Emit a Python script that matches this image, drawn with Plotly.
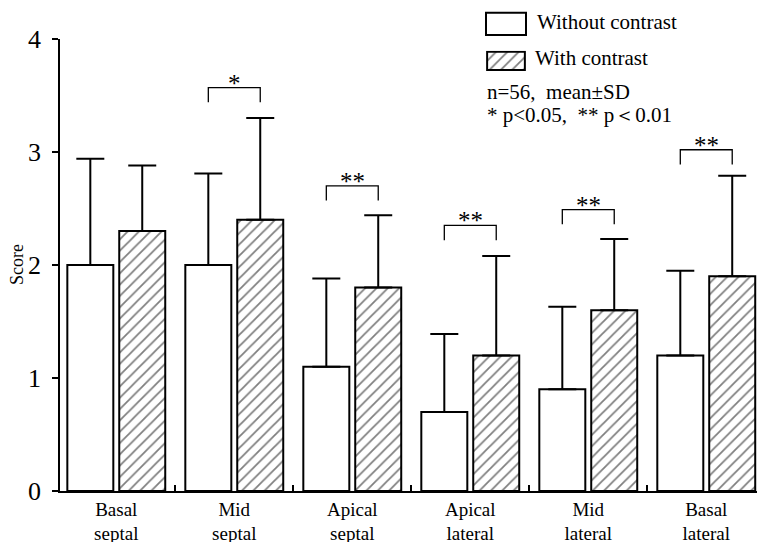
import plotly.graph_objects as go

# ---- data ----
categories = ["Basal<br>septal", "Mid<br>septal", "Apical<br>septal",
              "Apical<br>lateral", "Mid<br>lateral", "Basal<br>lateral"]
without_mean = [2.0, 2.0, 1.1, 0.7, 0.9, 1.2]
without_sd = [0.94, 0.81, 0.78, 0.69, 0.73, 0.75]
with_mean = [2.3, 2.4, 1.8, 1.2, 1.6, 1.9]
with_sd = [0.58, 0.90, 0.64, 0.88, 0.63, 0.89]
sig_labels = ["", "*", "**", "**", "**", "**"]
sig_heights = [None, 3.57, 2.70, 2.35, 2.49, 3.02]
y_ticks = [0, 1, 2, 3, 4]

FONT = "Liberation Serif"
W, H = 757, 542
ML, MR, MT, MB = 60, 0, 39, 51
PW, PH = W - ML - MR, H - MT - MB


def px2paper(x, y):
    return (x - ML) / PW, (H - MB - y) / PH


fig = go.Figure()

err_style = dict(type="data", symmetric=False, color="black", thickness=2, width=14)
hatch = dict(shape="/", fgcolor="black", bgcolor="white", size=8, solidity=0.22)

fig.add_trace(go.Bar(
    x=categories, y=without_mean, name="Without contrast",
    marker=dict(color="white", line=dict(color="black", width=2)),
    error_y=dict(array=without_sd, arrayminus=[0] * len(without_sd), **err_style),
    showlegend=False,
))
fig.add_trace(go.Bar(
    x=categories, y=with_mean, name="With contrast",
    marker=dict(color="white", line=dict(color="black", width=2), pattern=hatch),
    error_y=dict(array=with_sd, arrayminus=[0] * len(with_sd), **err_style),
    showlegend=False,
))

# significance brackets
half = 0.22
leg = 0.13
shapes = []
annotations = []
for i, (lab, h) in enumerate(zip(sig_labels, sig_heights)):
    if not lab:
        continue
    shapes.append(dict(type="path", xref="x", yref="y",
                       path=f"M {i - half},{h - leg} L {i - half},{h} L {i + half},{h} L {i + half},{h - leg}",
                       line=dict(color="black", width=1.3)))
    annotations.append(dict(x=i, y=h, xref="x", yref="y", text=lab, showarrow=False,
                            yanchor="bottom", yshift=-11,
                            font=dict(family=FONT, size=25, color="black")))

# legend: plain box
x0, y0 = px2paper(486, 35)
x1, y1 = px2paper(526, 12.7)
shapes.append(dict(type="rect", xref="paper", yref="paper", x0=x0, y0=y0, x1=x1, y1=y1,
                   line=dict(color="black", width=2), fillcolor="white"))

# legend: hatched box via a tiny subplot
hx0, hy0 = px2paper(486, 71)
hx1, hy1 = px2paper(526, 50.7)
fig.add_trace(go.Bar(
    x=[0.5], y=[1], base=[0], width=[1], xaxis="x2", yaxis="y2", showlegend=False,
    marker=dict(color="white", line=dict(color="black", width=2), pattern=hatch),
    hoverinfo="skip",
))

legend_texts = [
    ("Without contrast", 535, 22),
    ("With contrast", 533, 58),
    ("n=56,  mean±SD", 485, 92),
    ("* p<0.05,  ** p＜0.01", 485, 115),
]
for txt, px, py in legend_texts:
    ax, ay = px2paper(px, py)
    annotations.append(dict(x=ax, y=ay, xref="paper", yref="paper", text=txt,
                            showarrow=False, xanchor="left", yanchor="middle",
                            font=dict(family=FONT, size=21, color="black")))

# y-axis title as annotation for exact placement
annotations.append(dict(x=px2paper(17, 0)[0], y=0.5, xref="paper", yref="paper",
                        text="Score", textangle=-90, showarrow=False,
                        xanchor="center", yanchor="middle",
                        font=dict(family=FONT, size=18, color="black")))

fig.update_layout(
    width=W, height=H,
    margin=dict(l=ML, r=MR, t=MT, b=MB, pad=0),
    paper_bgcolor="white", plot_bgcolor="white",
    barmode="group", bargap=0.12, bargroupgap=0.114,
    font=dict(family=FONT, color="black"),
    shapes=shapes, annotations=annotations,
    xaxis=dict(
        type="category", range=[-0.477, 5.43], automargin=False,
        showline=True, linecolor="black", linewidth=1.5,
        ticks="inside", tickson="boundaries", ticklen=6, tickwidth=1.5, tickcolor="black",
        tickfont=dict(family=FONT, size=19, color="black"),
        showgrid=False, zeroline=False,
    ),
    yaxis=dict(
        range=[0, 4], tickvals=y_ticks, automargin=False,
        showline=True, linecolor="black", linewidth=1.5,
        ticks="outside", ticklen=6, tickwidth=1.5, tickcolor="black",
        ticklabelstandoff=6,
        tickfont=dict(family=FONT, size=26, color="black"),
        showgrid=False, zeroline=False,
    ),
    xaxis2=dict(domain=[hx0, hx1], anchor="y2", range=[-0.03, 1.03], visible=False),
    yaxis2=dict(domain=[hy0, hy1], anchor="x2", range=[-0.06, 1.06], visible=False),
)

fig.write_html("out.html", config={"displayModeBar": False},
               post_script="document.body.style.margin='0';document.body.style.overflow='hidden';")
